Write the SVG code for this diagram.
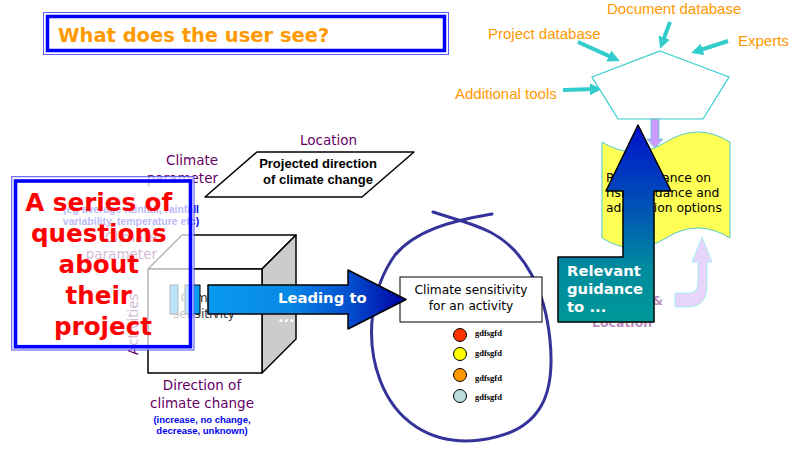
<svg xmlns="http://www.w3.org/2000/svg" width="795" height="451" viewBox="0 0 795 451">
  <defs>
    <style>
      .v{font-family:"DejaVu Sans",Verdana,sans-serif}
      .t{font-family:"Liberation Sans",Arial,sans-serif}
      .b{font-weight:bold}
      .lbl{fill:#660066;font-size:13.5px}
      .note{fill:#0000EE;font-size:10.5px;font-weight:bold}
      .src{fill:#FF9900;font-size:15px}
      .feed{stroke:#33CCCC;stroke-width:4;fill:none;marker-end:url(#tealHead)}
      .dot{stroke:#000;stroke-width:1}
      .key{font-family:"Liberation Serif","Times New Roman",serif;font-weight:bold;font-size:8.5px;fill:#000}
      .edge{stroke:#000;stroke-width:1.5;stroke-linejoin:round}
    </style>
    <marker id="tealHead" viewBox="0 0 10 10" refX="6" refY="5" markerWidth="3" markerHeight="3" orient="auto">
      <path d="M0,0 L10,5 L0,10 z" fill="#33CCCC"/>
    </marker>
    <linearGradient id="leadGrad" x1="170" y1="0" x2="407" y2="0" gradientUnits="userSpaceOnUse">
      <stop offset="0" stop-color="#0AA2F5"/>
      <stop offset="0.5" stop-color="#0888E6"/>
      <stop offset="0.75" stop-color="#0450D0"/>
      <stop offset="1" stop-color="#0000A0"/>
    </linearGradient>
    <linearGradient id="upGrad" x1="0" y1="125" x2="0" y2="322" gradientUnits="userSpaceOnUse">
      <stop offset="0" stop-color="#0010CC"/>
      <stop offset="0.45" stop-color="#0058B4"/>
      <stop offset="0.72" stop-color="#008A9E"/>
      <stop offset="1" stop-color="#009999"/>
    </linearGradient>
  </defs>

  <rect width="795" height="451" fill="#FFFFFF"/>

  <!-- title -->
  <g id="title">
    <rect x="43.5" y="12.5" width="405" height="42" fill="#FFFFFF" stroke="#5A5AFF" stroke-width="1"/>
    <rect x="47.5" y="16.5" width="397" height="34" fill="none" stroke="#0000FF" stroke-width="3.5"/>
    <text class="v b" x="58" y="42" font-size="19.5" fill="#FF9900">What does the user see?</text>
  </g>

  <!-- connectors -->
  <g id="connectors">
    <line class="feed" x1="670" y1="22" x2="661.7" y2="44.3"/>
    <line class="feed" x1="578" y1="42" x2="615.4" y2="58.9"/>
    <line class="feed" x1="728" y1="41" x2="695.8" y2="51.5"/>
    <line class="feed" x1="563" y1="90" x2="597" y2="89.1"/>
  </g>

  <!-- information sources -->
  <g id="sources">
    <text class="t src" x="607" y="14">Document database</text>
    <text class="t src" x="488" y="39">Project database</text>
    <text class="t src" x="738" y="46">Experts</text>
    <text class="t src" x="455" y="99">Additional tools</text>
  </g>

  <g id="hub">
    <polygon points="660,51 729,77 703,119 618,119 592,77" fill="#FFFFFF" stroke="#33CCCC" stroke-width="1.2"/>
  </g>

  <!-- activity & location feedback (faded) -->
  <g id="feedback">
    <path d="M675,293 L690,293 Q698,293 698,282 L698,262 L692,262 L702,237 L712,262 L707,262 L707,285 Q707,307 688,307 L675,307 Z" fill="#C9A0F5" stroke="#33DDDD" stroke-width="1"/>
    <text class="v b" x="652" y="305" font-size="12.5" fill="#660066">&amp;</text>
    <text class="v b" x="592" y="327" font-size="12.5" fill="#660066">Location</text>
    <rect x="565" y="234" width="165" height="108" fill="#FFFFFF" opacity="0.55"/>
  </g>

  <!-- guidance document -->
  <g id="guidance">
    <path d="M602,142 Q634,162 666,142 T730,142 L730,238 Q698,218 666,238 T602,238 Z" fill="#FFFF55" stroke="#55CCCC" stroke-width="1"/>
    <text class="v" x="606" y="182" font-size="12.3" fill="#000">Risk guidance on</text>
    <text class="v" x="606" y="197" font-size="12.3" fill="#000">risk, guidance and</text>
    <text class="v" x="606" y="212" font-size="12.3" fill="#000">adaptation options</text>
    <polygon points="651,119 659,119 659,139 663,139 655,148 647,139 651,139" fill="#CC99FF" stroke="#55CCCC" stroke-width="0.8"/>
  </g>

  <g id="relevant">
    <polygon class="edge" points="638,125 671,191 654,191 654,322 558,322 558,257 623,257 623,191 606,191" fill="url(#upGrad)"/>
    <text class="v b" font-size="14.8" fill="#FFFFFF">
      <tspan x="567" y="276">Relevant</tspan>
      <tspan x="567" y="294">guidance</tspan>
      <tspan x="567" y="312">to ...</tspan>
    </text>
  </g>

  <!-- climate sensitivity result -->
  <g id="result">
    <path d="M433,212 C450,218 470,222 490,232 C525,250 545,290 550,340 C555,390 545,432 480,440 C430,446 395,420 380,380 C365,340 370,290 395,255 C415,231 450,221 492,214" fill="none" stroke="#333399" stroke-width="3" stroke-linecap="round"/>
    <rect x="400" y="277" width="142" height="45" fill="#FFFFFF" stroke="#000" stroke-width="1"/>
    <text class="v" x="471" y="294" font-size="12.2" text-anchor="middle" fill="#000">Climate sensitivity</text>
    <text class="v" x="471" y="310" font-size="12.2" text-anchor="middle" fill="#000">for an activity</text>
    <circle class="dot" cx="460" cy="335" r="6.5" fill="#FF3300"/>
    <circle class="dot" cx="460" cy="354" r="6.5" fill="#FFFF00"/>
    <circle class="dot" cx="460" cy="375" r="6.5" fill="#FF9900"/>
    <circle class="dot" cx="460" cy="396" r="6.5" fill="#BBDDDD"/>
    <text class="key" x="475" y="336">gdfsgfd</text>
    <text class="key" x="475" y="356">gdfsgfd</text>
    <text class="key" x="475" y="381">gdfsgfd</text>
    <text class="key" x="475" y="400">gdfsgfd</text>
  </g>

  <!-- projected direction -->
  <g id="projection">
    <text class="v lbl" x="300" y="145">Location</text>
    <polygon class="edge" points="257,152 414,152 362,197 205,197" fill="#FFFFFF"/>
    <text class="t b" x="318" y="168" font-size="13" text-anchor="middle" fill="#000">Projected direction</text>
    <text class="t b" x="318" y="184" font-size="13" text-anchor="middle" fill="#000">of climate change</text>
  </g>

  <!-- cube of parameters -->
  <g id="cube">
    <text class="v lbl" x="218" y="165" text-anchor="end">Climate</text>
    <text class="v lbl" x="218" y="183" text-anchor="end">parameter</text>
    <text class="t note" x="131" y="213" text-anchor="middle">(eg average rainfall, rainfall</text>
    <text class="t note" x="131" y="225" text-anchor="middle">variability, temperature etc)</text>
    <text class="v lbl" x="157" y="242" text-anchor="end">Climate</text>
    <text class="v lbl" x="157" y="259" text-anchor="end">parameter</text>
    <polygon class="edge" points="148,269 182,235 296,235 262,269" fill="#FFFFFF"/>
    <polygon class="edge" points="262,269 296,235 296,339 262,373" fill="#CCCCCC"/>
    <rect class="edge" x="148" y="269" width="114" height="104" fill="#FFFFFF"/>
    <text class="v" x="204" y="302" font-size="12.2" text-anchor="middle" fill="#333">Climate</text>
    <text class="v" x="204" y="318" font-size="12.2" text-anchor="middle" fill="#333">sensitivity</text>
    <text class="v lbl" transform="translate(138,355) rotate(-90)">Activities</text>
    <text class="v lbl" x="202" y="390" text-anchor="middle">Direction of</text>
    <text class="v lbl" x="202" y="408" text-anchor="middle">climate change</text>
    <text class="t b" x="202" y="423" font-size="9.5" text-anchor="middle" fill="#0000EE">(increase, no change,</text>
    <text class="t b" x="202" y="434" font-size="9.5" text-anchor="middle" fill="#0000EE">decrease, unknown)</text>
  </g>

  <!-- leading-to arrow -->
  <g id="leading">
    <rect x="170" y="285" width="8" height="29" fill="url(#leadGrad)" stroke="#000" stroke-width="1"/>
    <rect x="185" y="285" width="15" height="29" fill="url(#leadGrad)" stroke="#000" stroke-width="1"/>
    <polygon class="edge" points="208,285 348,285 348,270 406,299.5 348,329 348,314 208,314" fill="url(#leadGrad)"/>
    <text class="v b" font-size="14.8" fill="#FFFFFF">
      <tspan x="278" y="303">Leading to</tspan>
      <tspan x="278" y="322">...</tspan>
    </text>
  </g>

  <!-- question panel -->
  <g id="questions">
    <rect x="11.7" y="176.7" width="182.3" height="173.3" fill="#FFFFFF" fill-opacity="0.72" stroke="#4D4DFF" stroke-width="1"/>
    <rect x="15.5" y="181" width="175" height="165.7" fill="none" stroke="#0000FF" stroke-width="3.6"/>
    <text class="v b" font-size="24.6" fill="#FF0000" text-anchor="middle">
      <tspan x="103" y="211">A series of</tspan>
      <tspan x="103" y="242">questions</tspan>
      <tspan x="103" y="273">about</tspan>
      <tspan x="103" y="304">their</tspan>
      <tspan x="103" y="335">project</tspan>
    </text>
  </g>
</svg>
